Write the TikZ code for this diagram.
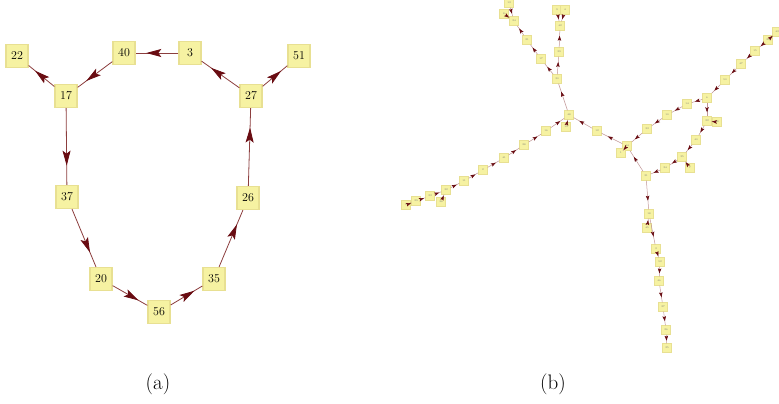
\documentclass[tikz,border=0pt]{standalone}
\usetikzlibrary{arrows.meta}
\usetikzlibrary{decorations.markings}

\definecolor{boxfill}{RGB}{246,242,162}
\definecolor{boxline}{RGB}{232,224,146}
\definecolor{edgeline}{RGB}{140,62,62}
\definecolor{tipred}{RGB}{105,12,18}

\begin{document}
\begin{tikzpicture}[x=1pt, y=-1pt,
    box/.style={draw=boxline, line width=1.3pt, fill=boxfill, minimum width=22pt, minimum height=23pt, inner sep=0pt, font=\fontsize{12}{14}\selectfont},
    tinybox/.style={draw=boxline, line width=0.5pt, fill=boxfill, minimum size=9pt, inner sep=0pt, font=\fontsize{2.5}{3}\selectfont, text=black!55},
    edge/.style={draw=edgeline, line width=0.8pt, postaction={decorate},
        decoration={markings, mark=at position 0.75 with {\arrow{Stealth[length=15pt, width=8pt, inset=3pt, color=tipred]}}}},
    twig/.style={draw=edgeline!55, line width=0.5pt, postaction={decorate},
        decoration={markings, mark=at position 0.7 with {\arrow{Stealth[length=5pt, width=3.5pt, inset=1pt, color=tipred]}}}}
]
    \useasboundingbox (0,0) rectangle (779,404);

    % left graph: the cycle with two leaves
    \node[box] (n22) at (17,56) {22};
    \node[box] (n40) at (124,53) {40};
    \node[box] (n3) at (190,53) {3};
    \node[box] (n51) at (299,56) {51};
    \node[box] (n17) at (66,96) {17};
    \node[box] (n27) at (251,96) {27};
    \node[box] (n37) at (67,197) {37};
    \node[box] (n26) at (248,198) {26};
    \node[box] (n20) at (101,279) {20};
    \node[box] (n35) at (214,279) {35};
    \node[box] (n56) at (159,312) {56};

    \foreach \a/\b in {n3/n40, n40/n17, n17/n22, n17/n37, n37/n20, n20/n56,
                       n56/n35, n35/n26, n26/n27, n27/n3, n27/n51}
        \draw[edge] (\a) -- (\b);

    % right graph: the larger tree
    \foreach \n/\x/\y/\t in {v13/509/3/13, v8/504/14/8, v24/514/21/24, v9/557/10/9,
            v4/565/10/4, v42/560/26/42, v21/527/40/21, v39/559/52/39, v17/541/59/17,
            v30/557/79/30, v48/569/115/48, v19/566/127/19, v16/546/131/16,
            v28/524/145/28, v41/504/158/41, v2/483/170/2, v11/464/181/11,
            v32/446/190/32, v36/441/202/36, v23/430/196/23, v29/416/201/29,
            v5/406/205/5, v12/597/131/12, v44/627/146/44, v1/621/153/1,
            v33/647/129/33, v10/667/115/10, v14/687/104/14, v6/707/98/6,
            v50/725/80/50, v47/741/64/47, v15/755/51/15, v20/768/40/20,
            v43/777/32/43, v22/707/121/22, v38/717/122/38, v40/696/140/40,
            v35/682/157/35, v7/690/168/7, v34/665/168/34, v31/646/176/31,
            v18/649/214/18, v45/647/228/45, v3/656/249/3, v52/660/262/52,
            v46/659/281/46, v27/663/307/27, v26/666/330/26, v25/667/348/25}
        \node[tinybox] (\n) at (\x,\y) {\t};

    \foreach \a/\b in {v13/v24, v8/v24, v30/v17, v17/v21, v21/v24, v9/v42, v4/v42,
            v30/v39, v39/v42, v48/v30, v19/v48, v16/v48, v28/v16, v41/v28, v2/v41,
            v11/v2, v32/v11, v36/v32, v23/v32, v29/v23, v5/v29, v12/v48, v44/v12,
            v1/v44, v33/v44, v10/v33, v14/v10, v6/v14, v50/v6, v47/v50, v15/v47,
            v20/v15, v43/v20, v6/v22, v38/v22, v22/v40, v40/v35, v7/v35, v35/v34,
            v34/v31, v31/v44, v31/v18, v45/v18, v18/v3, v3/v52, v52/v46, v46/v27,
            v27/v26, v26/v25}
        \draw[twig] (\a) -- (\b);

    \node[font=\fontsize{21}{25}\selectfont] (capa) at (158,384) {(a)};
    \node[font=\fontsize{21}{25}\selectfont] (capb) at (553,384) {(b)};
\end{tikzpicture}
\end{document}
